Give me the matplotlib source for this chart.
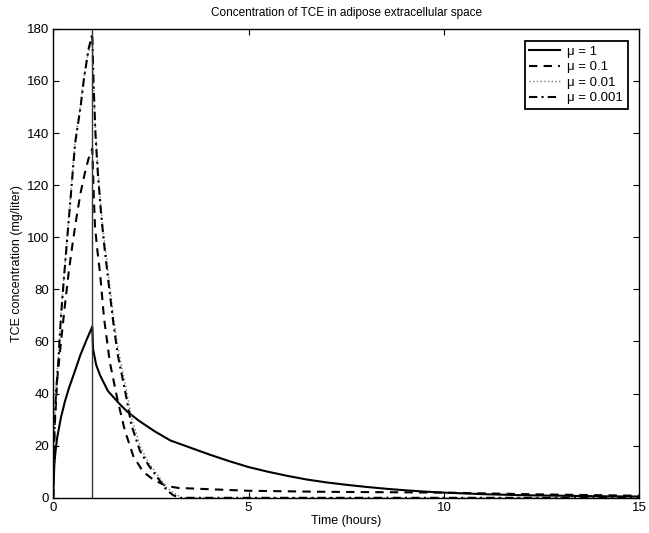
import matplotlib
matplotlib.use("Agg")
import matplotlib.pyplot as plt
import numpy as np

plt.rcParams['font.family'] = ['Liberation Sans', 'DejaVu Sans']

# time points (hours) and concentrations (mg/liter)
t_mu1 = [0, 0.01, 0.03, 0.06, 0.1, 0.2, 0.3, 0.4, 0.54, 0.7, 0.85, 1.0,
         1.02, 1.1, 1.2, 1.3, 1.4, 1.55, 1.7, 1.9, 2.2, 2.6, 3.0, 3.5, 4.0,
         4.5, 5.0, 5.5, 6.0, 6.5, 7.0, 7.5, 8.0, 8.5, 9.0, 9.5, 10.0,
         11.0, 12.0, 13.0, 14.0, 15.0]
c_mu1 = [0, 6, 13, 18, 23, 31, 37, 42, 48, 55, 60.5, 65.7,
         57, 51, 47, 44, 41, 38.5, 36, 33, 29.5, 25.5, 22, 19.3, 16.6,
         14.1, 11.8, 10.0, 8.4, 7.0, 5.9, 5.0, 4.2, 3.5, 2.9, 2.4, 2.0,
         1.4, 1.0, 0.8, 0.6, 0.5]

t_mu01 = [0, 0.03, 0.1, 0.2, 0.3, 0.4, 0.5, 0.6, 0.7, 0.8, 0.9, 1.0,
          1.04, 1.07, 1.13, 1.2, 1.3, 1.45, 1.64, 1.83, 2.05, 2.3, 2.56, 2.9,
          3.2, 4.0, 5.0, 7.0, 10.0, 12.5, 15.0]
c_mu01 = [0, 25, 45, 60, 74, 87, 98, 108, 117, 124, 130, 134,
          115, 104, 95, 86, 69, 52, 38, 26, 16, 10, 7, 4.5,
          3.8, 3.3, 2.7, 2.3, 2.0, 1.3, 0.8]

t_mu001 = [0, 0.03, 0.07, 0.13, 0.2, 0.3, 0.45, 0.56, 0.7, 0.78, 0.9, 1.0,
           1.03, 1.08, 1.14, 1.22, 1.29, 1.42, 1.54, 1.65, 1.84, 2.0, 2.22,
           2.44, 2.66, 2.9, 3.07, 3.3, 15.0]
c_mu001 = [0, 27, 42, 54, 71, 90, 117, 137, 151, 161, 171, 176,
           160, 142, 127, 112, 101, 85, 70, 58, 44, 31, 20,
           13.5, 9, 4, 2, 0, 0]

t_mu0001 = [0, 0.03, 0.07, 0.13, 0.2, 0.3, 0.45, 0.56, 0.7, 0.78, 0.9, 1.0,
            1.03, 1.08, 1.14, 1.22, 1.29, 1.42, 1.54, 1.65, 1.84, 2.0, 2.22,
            2.44, 2.66, 2.9, 3.07, 3.25, 15.0]
c_mu0001 = [0, 25, 40, 52, 70, 89, 116, 136, 150, 160, 172, 178,
            160, 140, 125, 110, 99, 82, 67, 55, 41, 28, 18,
            12.5, 8, 3, 1, 0, 0]

fig = plt.figure(figsize=(6.49, 5.33), dpi=100)
ax = fig.add_axes([0.082, 0.066, 0.903, 0.880])

ax.plot(t_mu1, c_mu1, '-', color='black', lw=1.5, label='μ = 1')
ax.plot(t_mu01, c_mu01, '--', color='black', lw=1.5, dashes=(4, 3), label='μ = 0.1')
ax.plot(t_mu001, c_mu001, ':', color='#777777', lw=1.0, label='μ = 0.01')
ax.plot(t_mu0001, c_mu0001, '-.', color='black', lw=1.5, dashes=(4, 2, 1, 2), label='μ = 0.001')
ax.axvline(1, color='#333333', lw=1.0)

ax.set_xlim(0, 15)
ax.set_ylim(0, 180)
ax.set_xticks([0, 5, 10, 15])
ax.set_yticks(np.arange(0, 181, 20))
ax.tick_params(direction='in', top=True, right=True, length=4, labelsize=9.5, pad=3)
for s in ax.spines.values():
    s.set_linewidth(1.0)

ax.set_title('Concentration of TCE in adipose extracellular space', fontsize=8.5, pad=9)
ax.set_xlabel('Time (hours)', fontsize=9, labelpad=1)
ax.set_ylabel('TCE concentration (mg/liter)', fontsize=9, labelpad=3)

leg = ax.legend(loc='upper right', fontsize=9.5, fancybox=False, edgecolor='black',
                framealpha=1, handlelength=2.3, handletextpad=0.6, labelspacing=0.25,
                borderpad=0.35, bbox_to_anchor=(0.992, 0.988))
leg.get_frame().set_linewidth(1.3)

fig.savefig('out.png', dpi=100)
